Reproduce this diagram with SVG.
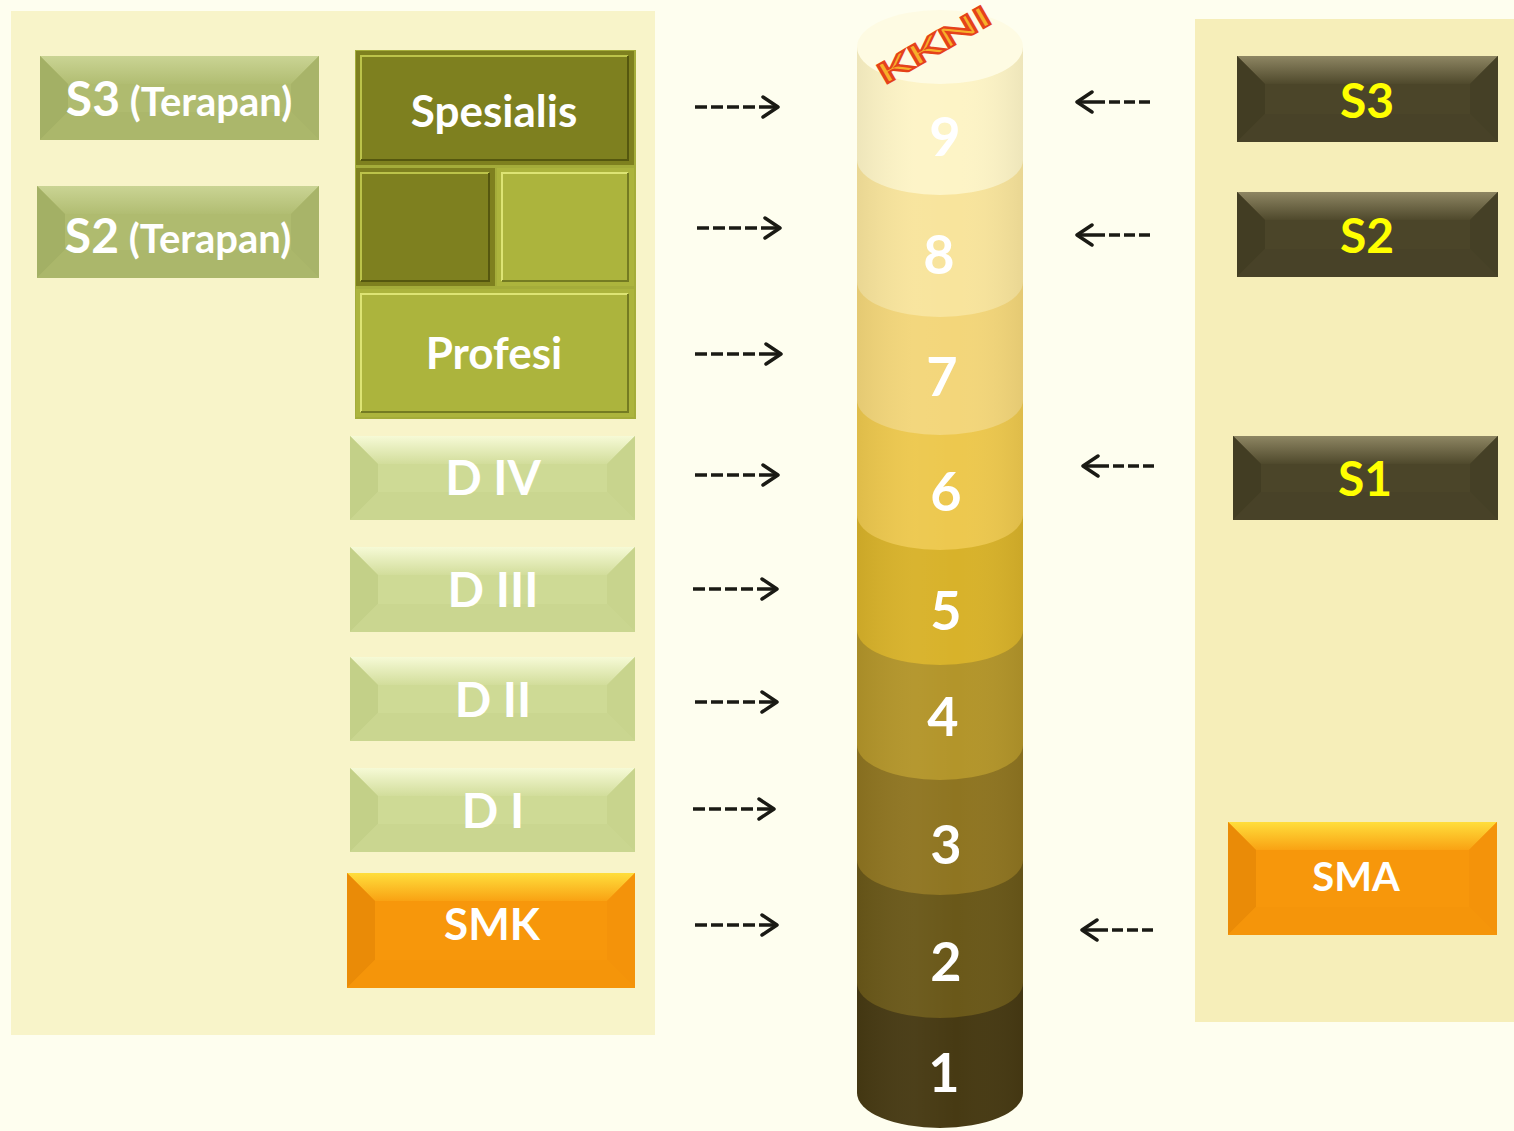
<svg xmlns="http://www.w3.org/2000/svg" width="1514" height="1131" viewBox="0 0 1514 1131">
<defs>
<linearGradient id="lgTop" x1="0" y1="0" x2="0" y2="1"><stop offset="0" stop-color="#F6FAD6"/><stop offset="1" stop-color="#D2DD9B"/></linearGradient>
<linearGradient id="olTop" x1="0" y1="0" x2="0" y2="1"><stop offset="0" stop-color="#CAD494"/><stop offset="1" stop-color="#B1BD72"/></linearGradient>
<linearGradient id="orTop" x1="0" y1="0" x2="0" y2="1"><stop offset="0" stop-color="#FFDE3C"/><stop offset="1" stop-color="#F9A213"/></linearGradient>
<linearGradient id="dkTop" x1="0" y1="0" x2="0" y2="1"><stop offset="0" stop-color="#8E8663"/><stop offset="1" stop-color="#4F492C"/></linearGradient>
<linearGradient id="cylShade" x1="0" y1="0" x2="1" y2="0">
<stop offset="0" stop-color="#000" stop-opacity="0.06"/>
<stop offset="0.35" stop-color="#fff" stop-opacity="0.03"/>
<stop offset="0.6" stop-color="#fff" stop-opacity="0"/>
<stop offset="1" stop-color="#000" stop-opacity="0.06"/>
</linearGradient>
<marker id="chev" markerUnits="userSpaceOnUse" viewBox="0 0 20 24" markerWidth="20" markerHeight="24" refX="18" refY="12" orient="auto">
<path d="M3,2 L18,12 L3,22" fill="none" stroke="#1A1A14" stroke-width="3.5" stroke-linecap="round" stroke-linejoin="round"/>
</marker>
</defs>
<style>
.lbl{font-family:Lato,"Open Sans","Liberation Sans",sans-serif;font-weight:bold;fill:#fff;text-anchor:middle}
.ylw{fill:#FFFF00}
.num{font-family:Lato,"Open Sans","Liberation Sans",sans-serif;font-weight:bold;fill:#fff;text-anchor:middle;font-size:54px}
.lg-face{fill:#CEDA95}.lg-top{fill:url(#lgTop)}.lg-l{fill:#C3D088}.lg-r{fill:#C8D48D}.lg-b{fill:#CAD690}
.ol-face{fill:#AFBB6F}.ol-top{fill:url(#olTop)}.ol-l{fill:#A3B065}.ol-r{fill:#A8B469}.ol-b{fill:#ABB76B}
.or-face{fill:#F7970B}.or-top{fill:url(#orTop)}.or-l{fill:#EA8B07}.or-r{fill:#F4930A}.or-b{fill:#F5950A}
.dk-face{fill:#4B4529}.dk-top{fill:url(#dkTop)}.dk-l{fill:#423D23}.dk-r{fill:#454026}.dk-b{fill:#484228}
.arr{fill:none;stroke:#1A1A14;stroke-width:3.5;stroke-dasharray:12 4 12 4 12 4 12 4 60;marker-end:url(#chev)}
.arrL{fill:none;stroke:#1A1A14;stroke-width:3.5;stroke-dasharray:11 4 11 4 11 4 60;marker-end:url(#chev)}
.hl{stroke-width:2;fill:none}
</style>
<rect x="0" y="0" width="1514" height="1131" fill="#FEFEEF"/>
<rect x="11" y="11" width="644" height="1024" fill="#F8F4C9"/>
<rect x="1195" y="19" width="319" height="1003" fill="#F6EEB9"/>

<g id="s3-terapan">
<rect class="ol-face" x="40" y="56" width="279" height="84"/>
<polygon class="ol-top" points="40,56 319,56 291,84 68,84"/>
<polygon class="ol-l" points="40,56 68,84 68,112 40,140"/>
<polygon class="ol-r" points="319,56 291,84 291,112 319,140"/>
<polygon class="ol-b" points="40,140 68,112 291,112 319,140"/>
<text class="lbl" x="179" y="116"><tspan font-size="48">S3</tspan><tspan font-size="40"> (Terapan)</tspan></text>
</g>
<g id="s2-terapan">
<rect class="ol-face" x="37" y="186" width="282" height="92"/>
<polygon class="ol-top" points="37,186 319,186 291,214 65,214"/>
<polygon class="ol-l" points="37,186 65,214 65,250 37,278"/>
<polygon class="ol-r" points="319,186 291,214 291,250 319,278"/>
<polygon class="ol-b" points="37,278 65,250 291,250 319,278"/>
<text class="lbl" x="178" y="253"><tspan font-size="48">S2</tspan><tspan font-size="40"> (Terapan)</tspan></text>
</g>

<g id="profesi-block">
<rect x="355" y="50" width="281" height="369" fill="#A4AC3A"/>
<g id="spesialis">
<rect x="356" y="51" width="278" height="114" fill="#7E801F"/>
<path class="hl" d="M361,160 V56 H628" stroke="#BCC34A"/>
<path class="hl" d="M628,56 V160 H361" stroke="#55570F"/>
<text class="lbl" x="494" y="127" font-size="44">Spesialis</text>
</g>
<g id="mid-dark">
<rect x="356" y="168" width="139" height="118" fill="#7E801F"/>
<path class="hl" d="M361,281 V173 H489" stroke="#BCC34A"/>
<path class="hl" d="M489,173 V281 H361" stroke="#55570F"/>
</g>
<g id="mid-light">
<rect x="497" y="168" width="137" height="118" fill="#ACB43D"/>
<path class="hl" d="M502,281 V173 H628" stroke="#DDE474"/>
<path class="hl" d="M628,173 V281 H502" stroke="#747B22"/>
</g>
<g id="profesi">
<rect x="356" y="289" width="278" height="128" fill="#ACB43D"/>
<path class="hl" d="M361,412 V294 H628" stroke="#DDE474"/>
<path class="hl" d="M628,294 V412 H361" stroke="#747B22"/>
<text class="lbl" x="494" y="369" font-size="44">Profesi</text>
</g>
</g>

<g id="d4">
<rect class="lg-face" x="350" y="436" width="285" height="84"/>
<polygon class="lg-top" points="350,436 635,436 607,464 378,464"/>
<polygon class="lg-l" points="350,436 378,464 378,492 350,520"/>
<polygon class="lg-r" points="635,436 607,464 607,492 635,520"/>
<polygon class="lg-b" points="350,520 378,492 607,492 635,520"/>
<text class="lbl" x="493" y="495" font-size="48">D IV</text>
</g>
<g id="d3">
<rect class="lg-face" x="350" y="547" width="285" height="85"/>
<polygon class="lg-top" points="350,547 635,547 607,575 378,575"/>
<polygon class="lg-l" points="350,547 378,575 378,604 350,632"/>
<polygon class="lg-r" points="635,547 607,575 607,604 635,632"/>
<polygon class="lg-b" points="350,632 378,604 607,604 635,632"/>
<text class="lbl" x="493" y="607" font-size="48">D III</text>
</g>
<g id="d2">
<rect class="lg-face" x="350" y="657" width="285" height="84"/>
<polygon class="lg-top" points="350,657 635,657 607,685 378,685"/>
<polygon class="lg-l" points="350,657 378,685 378,713 350,741"/>
<polygon class="lg-r" points="635,657 607,685 607,713 635,741"/>
<polygon class="lg-b" points="350,741 378,713 607,713 635,741"/>
<text class="lbl" x="493" y="717" font-size="48">D II</text>
</g>
<g id="d1">
<rect class="lg-face" x="350" y="768" width="285" height="84"/>
<polygon class="lg-top" points="350,768 635,768 607,796 378,796"/>
<polygon class="lg-l" points="350,768 378,796 378,824 350,852"/>
<polygon class="lg-r" points="635,768 607,796 607,824 635,852"/>
<polygon class="lg-b" points="350,852 378,824 607,824 635,852"/>
<text class="lbl" x="493" y="828" font-size="48">D I</text>
</g>
<g id="smk">
<rect class="or-face" x="347" y="873" width="288" height="115"/>
<polygon class="or-top" points="347,873 635,873 607,901 375,901"/>
<polygon class="or-l" points="347,873 375,901 375,960 347,988"/>
<polygon class="or-r" points="635,873 607,901 607,960 635,988"/>
<polygon class="or-b" points="347,988 375,960 607,960 635,988"/>
<text class="lbl" x="492" y="940" font-size="44">SMK</text>
</g>

<g id="s3">
<rect class="dk-face" x="1237" y="56" width="261" height="86"/>
<polygon class="dk-top" points="1237,56 1498,56 1470,84 1265,84"/>
<polygon class="dk-l" points="1237,56 1265,84 1265,114 1237,142"/>
<polygon class="dk-r" points="1498,56 1470,84 1470,114 1498,142"/>
<polygon class="dk-b" points="1237,142 1265,114 1470,114 1498,142"/>
<text class="lbl ylw" x="1367" y="118" font-size="48">S3</text>
</g>
<g id="s2">
<rect class="dk-face" x="1237" y="192" width="261" height="85"/>
<polygon class="dk-top" points="1237,192 1498,192 1470,220 1265,220"/>
<polygon class="dk-l" points="1237,192 1265,220 1265,249 1237,277"/>
<polygon class="dk-r" points="1498,192 1470,220 1470,249 1498,277"/>
<polygon class="dk-b" points="1237,277 1265,249 1470,249 1498,277"/>
<text class="lbl ylw" x="1367" y="253" font-size="48">S2</text>
</g>
<g id="s1">
<rect class="dk-face" x="1233" y="436" width="265" height="84"/>
<polygon class="dk-top" points="1233,436 1498,436 1470,464 1261,464"/>
<polygon class="dk-l" points="1233,436 1261,464 1261,492 1233,520"/>
<polygon class="dk-r" points="1498,436 1470,464 1470,492 1498,520"/>
<polygon class="dk-b" points="1233,520 1261,492 1470,492 1498,520"/>
<text class="lbl ylw" x="1365" y="496" font-size="48">S1</text>
</g>
<g id="sma">
<rect class="or-face" x="1228" y="822" width="269" height="113"/>
<polygon class="or-top" points="1228,822 1497,822 1469,850 1256,850"/>
<polygon class="or-l" points="1228,822 1256,850 1256,907 1228,935"/>
<polygon class="or-r" points="1497,822 1469,850 1469,907 1497,935"/>
<polygon class="or-b" points="1228,935 1256,907 1469,907 1497,935"/>
<text class="lbl" x="1356" y="891" font-size="40">SMA</text>
</g>

<g id="kkni-cylinder">
<path d="M857,983 L857,1093 A83,35 0 0 0 1023,1093 L1023,983 Z" fill="#473A13"/>
<path d="M857,860 L857,983 A83,35 0 0 0 1023,983 L1023,860 Z" fill="#6A5819"/>
<path d="M857,745 L857,860 A83,35 0 0 0 1023,860 L1023,745 Z" fill="#8F7521"/>
<path d="M857,630 L857,745 A83,35 0 0 0 1023,745 L1023,630 Z" fill="#B3952A"/>
<path d="M857,515 L857,630 A83,35 0 0 0 1023,630 L1023,515 Z" fill="#D8B22A"/>
<path d="M857,400 L857,515 A83,35 0 0 0 1023,515 L1023,400 Z" fill="#EDC84E"/>
<path d="M857,282 L857,400 A83,35 0 0 0 1023,400 L1023,282 Z" fill="#F3D67A"/>
<path d="M857,160 L857,282 A83,35 0 0 0 1023,282 L1023,160 Z" fill="#F8E49C"/>
<path d="M857,47 L857,160 A83,35 0 0 0 1023,160 L1023,47 Z" fill="#FDF4C6"/>
<path d="M857,47 L857,1093 A83,35 0 0 0 1023,1093 L1023,47 Z" fill="url(#cylShade)"/>
<ellipse cx="940" cy="47" rx="83" ry="37" fill="#FEFBE3"/>
<text transform="translate(934,45) rotate(-30) scale(1,0.85)" x="0" y="12" font-family="Lato,'Liberation Sans',sans-serif" font-weight="bold" font-size="34" text-anchor="middle" textLength="126" lengthAdjust="spacingAndGlyphs" fill="#F7B02A" stroke="#E5421A" stroke-width="2.2">KKNI</text>
<text class="num" x="945" y="156">9</text>
<text class="num" x="939" y="274">8</text>
<text class="num" x="942" y="396">7</text>
<text class="num" x="946" y="511">6</text>
<text class="num" x="946" y="630">5</text>
<text class="num" x="943" y="736">4</text>
<text class="num" x="946" y="864">3</text>
<text class="num" x="946" y="981">2</text>
<text class="num" x="944" y="1092">1</text>
</g>

<g id="connectors">
<path class="arr" d="M695,107 H778"/>
<path class="arr" d="M697,228 H780"/>
<path class="arr" d="M695,354 H781"/>
<path class="arr" d="M695,475 H778"/>
<path class="arr" d="M693,589 H777"/>
<path class="arr" d="M695,702 H777"/>
<path class="arr" d="M693,809 H774"/>
<path class="arr" d="M695,925 H777"/>
<path class="arrL" d="M1150,102 H1077"/>
<path class="arrL" d="M1150,235 H1077"/>
<path class="arrL" d="M1154,466 H1083"/>
<path class="arrL" d="M1153,930 H1082"/>
</g>
</svg>
